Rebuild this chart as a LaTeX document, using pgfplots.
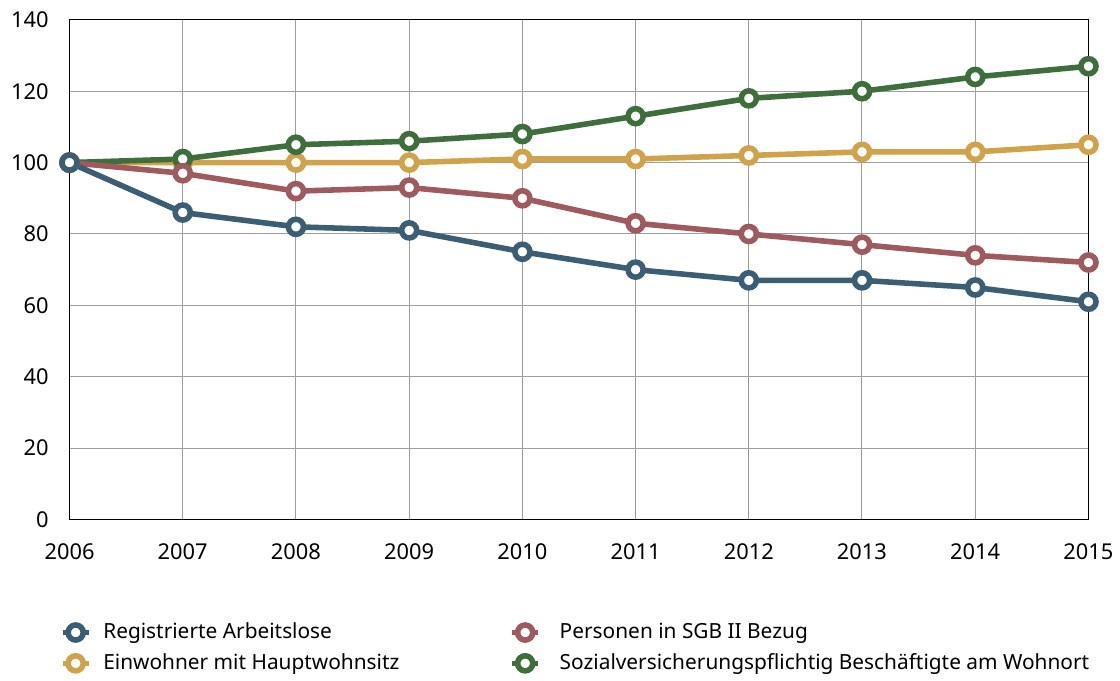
\documentclass[border=0pt]{standalone}
\usepackage{pgfplots}
\pgfplotsset{compat=1.18}
\usetikzlibrary{calc}
\usepackage{fontspec}
\setmainfont{Noto Sans}

\definecolor{cblue}{HTML}{3B5E74}
\definecolor{cred}{HTML}{9E5A5E}
\definecolor{cyellow}{HTML}{D0A24A}
\definecolor{cgreen}{HTML}{3F6E3D}

\pgfplotsset{
  serie/.style={color=#1, line width=2.8pt, mark=*, mark size=3.8pt,
    mark options={fill=white, draw=#1, line width=2.8pt, solid}},
}

\begin{document}
\begin{tikzpicture}
\begin{axis}[
    name=ax,
    scale only axis,
    width=513pt, height=251.5pt,
    xmin=2006, xmax=2015,
    ymin=0, ymax=140,
    xtick={2006,...,2015},
    ytick={0,20,...,140},
    /pgf/number format/assume math mode=true,
    x tick label style={/pgf/number format/1000 sep={}, yshift=-8.5pt},
    y tick label style={xshift=-7pt},
    major tick length=0pt,
    grid=major,
    grid style={color=black!38, line width=0.5pt},
    axis line style={line width=0.6pt},
    tick label style={font=\fontsize{11}{13}\selectfont},
    clip=false,
    legend columns=2,
    legend cell align=left,
    legend style={at={(0,0)}, anchor=north west, xshift=-8pt, yshift=-48pt,
      draw=none, fill=none, font=\fontsize{10.5}{12}\selectfont,
      row sep=2pt},
    legend image code/.code={
      \draw[mark repeat=2,mark phase=2] plot coordinates {(0pt,0pt)(6.5pt,0pt)(13pt,0pt)};},
]
\addlegendimage{serie=cblue}
\addlegendentry{\hspace{4pt}\makebox[202.5pt][l]{Registrierte Arbeitslose}}
\addlegendimage{serie=cred}
\addlegendentry{\hspace{7.5pt}Personen in SGB II Bezug}
\addlegendimage{serie=cyellow}
\addlegendentry{\hspace{4pt}\makebox[202.5pt][l]{Einwohner mit Hauptwohnsitz}}
\addlegendimage{serie=cgreen}
\addlegendentry{\hspace{7.5pt}Sozialversicherungspflichtig Beschäftigte am Wohnort}

\addplot[serie=cyellow, forget plot] coordinates {
  (2006,100)(2007,100)(2008,100)(2009,100)(2010,101)
  (2011,101)(2012,102)(2013,103)(2014,103)(2015,105)};
\addplot[serie=cgreen, forget plot] coordinates {
  (2006,100)(2007,101)(2008,105)(2009,106)(2010,108)
  (2011,113)(2012,118)(2013,120)(2014,124)(2015,127)};
\addplot[serie=cred, forget plot] coordinates {
  (2006,100)(2007,97)(2008,92)(2009,93)(2010,90)
  (2011,83)(2012,80)(2013,77)(2014,74)(2015,72)};
\addplot[serie=cblue, forget plot] coordinates {
  (2006,100)(2007,86)(2008,82)(2009,81)(2010,75)
  (2011,70)(2012,67)(2013,67)(2014,65)(2015,61)};
\end{axis}
\path ($(ax.south west)+(-35pt,-76pt)$) ($(ax.north east)+(12pt,10pt)$);
\end{tikzpicture}
\end{document}
